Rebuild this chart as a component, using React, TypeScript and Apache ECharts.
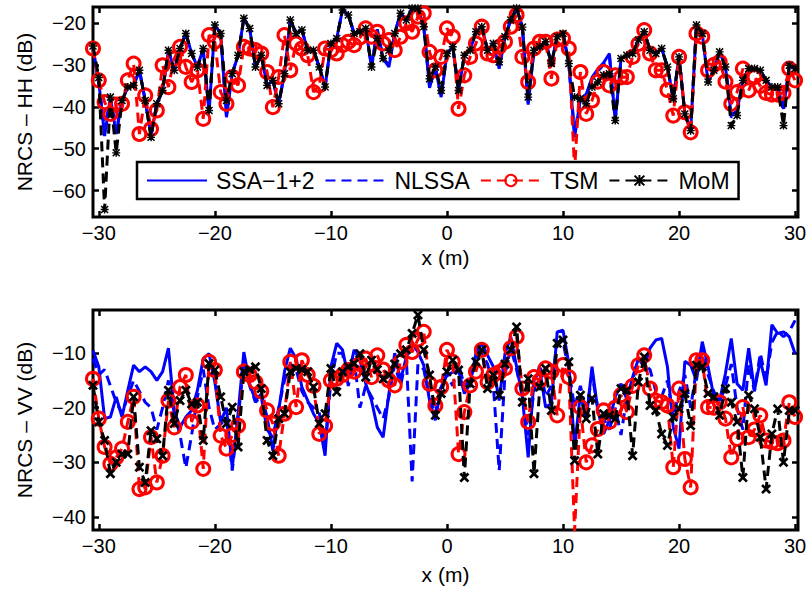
import React, { useEffect, useRef } from "react";
import * as echarts from "echarts";

// x positions (m): -30.5 .. 30.0, step 0.5
const X_START = -30.5;
const X_STEP = 0.5;
const N = 122;
const XS = Array.from({ length: N }, (_, i) => X_START + X_STEP * i);

const X_TICKS = [-30, -20, -10, 0, 10, 20, 30];
const Y_TICKS_HH = [-60, -50, -40, -30, -20];
const Y_TICKS_VV = [-40, -30, -20, -10];
const SERIES_NAMES = ["SSA\u22121+2", "NLSSA", "TSM", "MoM"];

// ---------- HH (top) ----------
const HH_SSA = [
  -26.0, -34.0, -47.0, -37.7, -46.5, -38.5, -35.3, -34.9, -31.3, -38.5,
  -47.0, -39.3, -36.1, -26.5, -31.3, -26.1, -22.5, -27.3, -30.5, -26.1,
  -41.5, -20.5, -22.5, -42.5, -32.1, -27.7, -18.9, -21.3, -30.5, -27.7,
  -34.9, -33.7, -39.3, -32.1, -19.3, -22.5, -21.7, -26.5, -26.5, -30.5,
  -35.3, -24.9, -23.7, -16.9, -18.1, -22.5, -22.1, -21.3, -30.5, -21.5,
  -28.5, -30.5, -22.5, -17.7, -19.3, -16.5, -16.5, -20.9, -35.5, -30.5,
  -37.7, -27.3, -25.7, -36.1, -27.7, -26.5, -22.1, -20.9, -26.5, -24.9,
  -30.9, -23.3, -19.3, -16.5, -21.0, -39.5, -26.5, -25.7, -24.5, -29.7,
  -23.3, -22.5, -29.7, -47.3, -38.1, -37.0, -33.0, -31.0, -29.5, -27.3,
  -43.3, -28.5, -27.7, -27.3, -24.1, -22.1, -26.5, -27.3, -26.1, -30.5,
  -38.1, -28.1, -41.7, -45.7, -20.5, -22.5, -34.1, -31.3, -26.9, -30.5,
  -42.0, -41.0, -33.7, -30.9, -30.9, -31.3, -33.7, -35.3, -35.3, -40.5,
  -30.1, -30.9,
];
const HH_NLSSA = [
  -26.0, -34.5, -45.5, -37.7, -46.0, -38.5, -35.3, -34.9, -31.3, -38.5,
  -46.5, -39.3, -36.1, -26.5, -31.3, -26.1, -22.5, -27.3, -30.5, -26.1,
  -41.0, -20.5, -22.5, -42.0, -32.1, -27.7, -18.9, -21.3, -30.5, -27.7,
  -34.9, -33.7, -39.3, -32.1, -19.3, -22.5, -21.7, -26.5, -26.5, -30.5,
  -35.3, -24.9, -23.7, -16.9, -18.1, -22.5, -22.1, -21.3, -30.5, -22.0,
  -28.5, -30.0, -22.5, -17.7, -19.3, -16.5, -16.5, -20.9, -35.0, -30.5,
  -37.5, -27.3, -25.7, -36.1, -27.7, -26.5, -22.1, -20.9, -26.5, -24.9,
  -30.5, -23.3, -19.3, -16.5, -21.0, -39.0, -26.5, -25.7, -24.5, -29.7,
  -23.3, -22.5, -29.7, -46.5, -38.1, -37.5, -33.5, -31.5, -30.0, -28.0,
  -43.3, -28.5, -27.7, -27.3, -24.1, -22.1, -26.5, -27.3, -26.1, -30.5,
  -38.1, -28.1, -41.7, -45.7, -20.5, -22.5, -34.1, -31.3, -26.9, -30.5,
  -42.5, -41.5, -33.7, -30.9, -30.9, -31.3, -33.7, -35.3, -35.3, -41.0,
  -30.1, -30.9,
];
const HH_TSM = [
  -26.1, -33.7, -38.9, -41.7, -39.5, -39.3, -33.7, -29.7, -46.5, -37.3,
  -45.3, -40.9, -30.1, -35.3, -28.5, -25.7, -30.5, -34.1, -31.3, -42.9,
  -22.9, -24.5, -36.5, -39.3, -32.9, -34.9, -25.7, -26.1, -26.5, -27.3,
  -31.7, -40.1, -32.9, -22.9, -31.3, -24.9, -26.1, -27.7, -36.5, -34.9,
  -26.1, -26.5, -27.3, -25.3, -24.5, -25.3, -23.5, -21.3, -23.3, -22.1,
  -24.9, -24.1, -26.5, -23.3, -20.1, -22.1, -18.5, -17.7, -26.9, -31.3,
  -28.1, -21.3, -23.3, -40.5, -32.5, -28.1, -24.9, -20.9, -27.3, -27.7,
  -25.7, -24.5, -20.9, -18.1, -28.1, -34.1, -26.1, -24.5, -24.5, -33.3,
  -24.0, -23.7, -26.1, -55.0, -31.7, -41.7, -38.5, -34.0, -31.7, -34.9,
  -32.5, -33.0, -32.9, -28.1, -25.0, -21.7, -27.3, -31.3, -31.3, -36.0,
  -42.1, -28.1, -41.3, -46.1, -22.5, -23.3, -31.3, -30.0, -29.3, -34.0,
  -39.3, -36.5, -30.9, -36.1, -32.9, -35.0, -36.7, -37.1, -37.1, -36.7,
  -30.9, -33.7,
];
const HH_MOM = [
  -25.5, -33.0, -64.5, -37.7, -51.0, -38.5, -35.3, -34.9, -31.3, -38.5,
  -47.3, -39.3, -36.1, -26.5, -31.3, -26.1, -22.5, -27.3, -30.5, -26.1,
  -40.9, -20.5, -22.5, -38.5, -32.1, -27.7, -18.9, -21.3, -30.5, -27.7,
  -34.9, -33.7, -39.3, -32.1, -19.3, -22.5, -21.7, -26.5, -26.5, -30.5,
  -35.3, -24.9, -23.7, -16.9, -18.1, -22.5, -22.1, -21.3, -30.5, -23.7,
  -28.5, -26.5, -22.5, -17.7, -19.3, -16.5, -16.5, -20.9, -33.3, -30.5,
  -36.1, -27.3, -25.7, -36.1, -27.7, -26.5, -22.1, -20.9, -26.5, -24.9,
  -29.3, -23.3, -19.3, -16.5, -21.0, -37.7, -26.5, -25.7, -24.5, -29.7,
  -23.3, -22.5, -29.7, -37.7, -38.1, -39.3, -35.3, -34.1, -32.5, -32.1,
  -43.3, -28.5, -27.7, -27.3, -24.1, -22.1, -26.5, -27.3, -26.1, -30.5,
  -38.1, -28.1, -41.7, -45.7, -20.5, -22.5, -34.1, -31.3, -26.9, -30.5,
  -44.5, -42.1, -33.7, -30.9, -30.9, -31.3, -33.7, -35.3, -35.3, -44.5,
  -30.1, -30.9,
];

// ---------- VV (bottom) ----------
const VV_SSA = [
  -9.5, -12.5, -22.0, -21.7, -18.0, -21.7, -16.8, -12.2, -13.4, -12.5,
  -13.4, -15.0, -13.4, -9.1, -20.5, -23.6, -21.7, -20.5, -16.8, -11.0,
  -10.1, -15.3, -22.6, -20.0, -31.0, -21.1, -9.8, -15.6, -18.7, -17.5,
  -21.7, -27.9, -20.5, -13.4, -9.1, -11.0, -16.2, -18.7, -21.1, -22.9,
  -28.8, -12.5, -8.2, -9.4, -14.4, -9.4, -11.3, -15.6, -18.7, -23.6,
  -25.4, -17.4, -10.0, -15.0, -10.7, -8.2, -9.8, -12.2, -18.7, -22.3,
  -16.2, -14.0, -13.5, -13.1, -17.4, -15.6, -10.0, -8.2, -10.4, -12.5,
  -18.7, -10.1, -7.0, -12.5, -18.0, -29.1, -15.0, -13.1, -19.9, -19.3,
  -6.1, -5.8, -11.9, -27.2, -17.4, -22.3, -12.5, -20.5, -24.8, -22.3,
  -18.0, -15.6, -18.5, -14.4, -11.0, -12.5, -9.1, -7.6, -7.3, -12.5,
  -23.6, -27.5, -11.5, -12.2, -15.0, -7.9, -12.5, -18.0, -18.7, -13.7,
  -7.3, -15.6, -16.8, -9.1, -16.8, -11.3, -15.9, -4.8, -6.4, -6.1,
  -7.0, -10.1,
];
const VV_NLSSA = [
  -11.0, -14.0, -13.0, -16.0, -19.0, -21.0, -18.0, -15.0, -17.0, -19.0,
  -20.0, -24.0, -20.0, -15.0, -21.0, -25.0, -31.0, -25.0, -18.0, -13.0,
  -20.0, -24.0, -23.0, -22.0, -31.5, -22.0, -12.0, -16.0, -19.0, -18.0,
  -24.0, -25.5, -20.0, -15.0, -12.0, -13.0, -17.0, -19.0, -20.0, -21.0,
  -27.0, -15.0, -10.0, -10.0, -16.0, -11.0, -20.0, -16.0, -18.0, -20.0,
  -22.0, -18.0, -12.0, -16.0, -11.0, -33.5, -12.0, -13.0, -18.0, -21.0,
  -16.0, -14.0, -16.0, -12.0, -16.0, -15.0, -11.0, -10.0, -12.0, -16.0,
  -31.5, -14.0, -9.0, -13.0, -18.0, -25.0, -17.0, -12.0, -18.0, -16.0,
  -8.0, -8.0, -13.0, -20.0, -16.0, -21.0, -14.0, -20.0, -22.0, -24.0,
  -20.0, -25.0, -18.0, -15.0, -11.0, -12.0, -13.0, -17.0, -18.0, -15.0,
  -22.0, -17.0, -14.0, -20.0, -13.0, -9.0, -14.0, -17.0, -19.0, -16.0,
  -12.0, -20.0, -24.0, -12.0, -17.0, -10.0, -15.0, -8.0, -6.0, -7.0,
  -6.0, -4.0,
];
const VV_TSM = [
  -14.7, -22.0, -27.2, -30.3, -29.1, -27.5, -22.6, -18.0, -34.9, -34.6,
  -25.4, -33.7, -28.8, -18.7, -23.6, -16.2, -14.0, -22.6, -19.6, -31.2,
  -11.6, -13.1, -25.1, -27.5, -25.0, -23.3, -13.4, -14.0, -15.3, -17.0,
  -20.5, -22.9, -28.8, -21.1, -11.6, -19.9, -11.3, -14.0, -16.0, -24.8,
  -23.3, -15.0, -14.7, -14.0, -13.1, -13.4, -12.0, -11.0, -14.4, -10.4,
  -13.0, -15.0, -15.9, -11.6, -8.5, -9.8, -7.5, -6.1, -15.6, -19.6,
  -16.2, -9.4, -11.6, -28.5, -20.8, -15.9, -13.4, -9.4, -15.3, -14.0,
  -13.5, -12.8, -9.1, -7.0, -16.5, -22.6, -14.4, -15.0, -12.8, -13.4,
  -21.4, -12.2, -14.4, -42.6, -19.9, -30.0, -26.9, -23.9, -20.5, -22.6,
  -20.0, -17.7, -20.8, -16.0, -12.2, -10.4, -16.5, -18.7, -19.0, -19.6,
  -30.9, -16.5, -29.4, -34.6, -11.3, -11.3, -19.9, -20.0, -19.0, -22.0,
  -29.1, -25.7, -19.9, -25.4, -24.0, -21.4, -26.0, -26.3, -26.5, -26.0,
  -19.0, -21.7,
];
const VV_MOM = [
  -15.9, -22.6, -26.0, -32.1, -30.0, -28.5, -28.5, -18.0, -30.9, -33.7,
  -24.2, -25.7, -28.8, -16.8, -22.9, -18.7, -16.8, -19.3, -19.0, -26.0,
  -11.9, -13.1, -18.0, -22.9, -19.9, -27.2, -13.4, -13.0, -12.5, -16.5,
  -26.0, -28.8, -22.0, -21.1, -13.4, -12.8, -13.0, -13.4, -16.2, -22.9,
  -21.1, -12.8, -17.1, -13.4, -12.5, -11.9, -10.1, -14.4, -11.3, -13.0,
  -14.7, -14.0, -12.0, -10.1, -9.4, -6.4, -3.0, -9.4, -14.0, -21.4,
  -17.4, -13.4, -11.3, -13.1, -32.8, -15.6, -11.6, -9.4, -16.5, -14.0,
  -17.7, -12.0, -9.4, -5.2, -19.0, -14.7, -32.1, -16.2, -12.8, -20.5,
  -8.2, -7.6, -11.6, -29.7, -17.7, -22.0, -18.3, -28.5, -21.1, -21.4,
  -22.0, -16.5, -16.8, -28.8, -15.3, -10.7, -19.6, -20.5, -24.8, -26.9,
  -21.7, -20.2, -17.4, -23.3, -12.2, -12.5, -17.4, -18.0, -21.4, -16.5,
  -19.0, -22.6, -32.8, -17.7, -20.2, -25.4, -34.9, -24.8, -20.2, -30.0,
  -20.5, -20.5,
];

const FONT = "'Liberation Sans', Arial, Helvetica, sans-serif";
const BLUE = "#0000ff";
const RED = "#ff0000";
const BLACK = "#000000";

const ASTERISK =
  "path://M4.1,0H5.9V10H4.1Z M0,4.1H10V5.9H0Z M0,1.3L1.3,0L5,3.7L8.7,0L10,1.3L6.3,5L10,8.7L8.7,10L5,6.3L1.3,10L0,8.7L3.7,5Z";
const CROSS =
  "path://M0,1.9L1.9,0L5,3.1L8.1,0L10,1.9L6.9,5L10,8.1L8.1,10L5,6.9L1.9,10L0,8.1L3.1,5Z";

const minus = (v: number) => String(v).replace("-", "\u2212");

function buildOption() {
  const GRID_LEFT = 93;
  const GRID_RIGHT = 13;
  const grids = [
    { left: GRID_LEFT, right: GRID_RIGHT, top: 7, height: 210 },
    { left: GRID_LEFT, right: GRID_RIGHT, top: 310, height: 220 },
  ].map((g) => ({
    ...g,
    show: true,
    borderColor: "#000",
    borderWidth: 3,
    containLabel: false,
    outerBoundsMode: "none",
  }));

  const tick = (values: number[]) => ({
    show: true,
    inside: true,
    length: 6,
    lineStyle: { color: "#000", width: 2.5 },
    customValues: values,
  });
  const noLine = { show: false, onZero: false };
  const xMin = -30.5;
  const xMax = 30.25;

  const xAxes: any[] = [];
  const yAxes: any[] = [];
  [0, 1].forEach((g) => {
    const xNameGap = g === 0 ? 30 : 34;
    xAxes.push({
      type: "value",
      gridIndex: g,
      position: "bottom",
      min: xMin,
      max: xMax,
      axisLine: noLine,
      splitLine: { show: false },
      axisTick: tick(X_TICKS),
      axisLabel: {
        customValues: X_TICKS,
        formatter: minus,
        color: "#000",
        fontSize: 20,
        fontFamily: FONT,
        margin: 6,
      },
      name: "x (m)",
      nameLocation: "middle",
      nameGap: xNameGap,
      nameTextStyle: { color: "#000", fontSize: 21, fontFamily: FONT },
    });
    xAxes.push({
      type: "value",
      gridIndex: g,
      position: "top",
      min: xMin,
      max: xMax,
      axisLine: noLine,
      splitLine: { show: false },
      axisTick: tick(X_TICKS),
      axisLabel: { show: false },
    });
    const yt = g === 0 ? Y_TICKS_HH : Y_TICKS_VV;
    const yMin = g === 0 ? -66.3 : -42.4;
    const yMax = g === 0 ? -16.2 : -2.1;
    yAxes.push({
      type: "value",
      gridIndex: g,
      position: "left",
      min: yMin,
      max: yMax,
      axisLine: noLine,
      splitLine: { show: false },
      axisTick: tick(yt),
      axisLabel: {
        customValues: yt,
        formatter: minus,
        color: "#000",
        fontSize: 20,
        fontFamily: FONT,
        margin: 7,
      },
      name: g === 0 ? "NRCS \u2013 HH (dB)" : "NRCS \u2013 VV (dB)",
      nameLocation: "middle",
      nameGap: 58,
      nameTextStyle: { color: "#000", fontSize: 21, fontFamily: FONT },
    });
    yAxes.push({
      type: "value",
      gridIndex: g,
      position: "right",
      min: yMin,
      max: yMax,
      axisLine: noLine,
      splitLine: { show: false },
      axisTick: tick(yt),
      axisLabel: { show: false },
    });
  });

  const DASH = [10, 6];
  const make = (
    name: string,
    values: number[],
    g: number,
    color: string,
    dashed: boolean,
    symbol: string,
    symbolSize: number,
    hollow: boolean,
    z: number
  ) => ({
    type: "line",
    name,
    xAxisIndex: g * 2,
    yAxisIndex: g * 2,
    data: XS.map((x, i) => [x, values[i]]),
    symbol,
    symbolSize,
    showSymbol: symbol !== "none",
    showAllSymbol: true,
    lineStyle: { color, width: 3, type: dashed ? DASH : "solid" },
    itemStyle: hollow
      ? { color: "rgba(255,255,255,0)", borderColor: color, borderWidth: 3 }
      : { color, borderWidth: 0 },
    emphasis: { disabled: true },
    silent: true,
    z,
    clip: true,
  });

  const series: any[] = [];
  const sets = [
    [HH_SSA, HH_NLSSA, HH_TSM, HH_MOM, ASTERISK, 8],
    [VV_SSA, VV_NLSSA, VV_TSM, VV_MOM, CROSS, 10],
  ] as const;
  sets.forEach((s, g) => {
    series.push(make(SERIES_NAMES[0], s[0] as any, g, BLUE, false, "none", 0, false, 2));
    series.push(make(SERIES_NAMES[1], s[1] as any, g, BLUE, true, "none", 0, false, 3));
    series.push(make(SERIES_NAMES[2], s[2] as any, g, RED, true, "circle", 13, true, 4));
    series.push(make(SERIES_NAMES[3], s[3] as any, g, BLACK, true, s[4] as any, s[5] as any, false, 5));
  });

  const hiddenIcon = { color: "rgba(0,0,0,0)", borderColor: "rgba(0,0,0,0)", borderWidth: 0, opacity: 0 };

  return {
    animation: false,
    backgroundColor: "#fff",
    textStyle: { fontFamily: FONT },
    grid: grids,
    xAxis: xAxes,
    yAxis: yAxes,
    legend: {
      show: true,
      data: [
        { name: SERIES_NAMES[0], itemStyle: hiddenIcon },
        { name: SERIES_NAMES[1], itemStyle: hiddenIcon },
        { name: SERIES_NAMES[2] },
        { name: SERIES_NAMES[3] },
      ],
      left: 137,
      top: 162,
      orient: "horizontal",
      backgroundColor: "#fff",
      borderColor: "#000",
      borderWidth: 2.5,
      borderRadius: 0,
      padding: [7, 9, 7, 9],
      itemGap: 10,
      itemWidth: 60,
      itemHeight: 14,
      selectedMode: false,
      textStyle: {
        color: "#000",
        fontSize: 23,
        fontFamily: FONT,
        padding: [0, 0, 0, 4],
      },
      z: 20,
    },
    series,
  };
}

export default function App() {
  const ref = useRef<HTMLDivElement>(null);
  useEffect(() => {
    if (!ref.current) return;
    const chart = echarts.init(ref.current, undefined, { renderer: "svg" });
    chart.setOption(buildOption() as any);
    return () => chart.dispose();
  }, []);
  return (
    <div
      ref={ref}
      style={{ position: "fixed", left: 0, top: 0, width: 811, height: 592, background: "#fff" }}
    />
  );
}
